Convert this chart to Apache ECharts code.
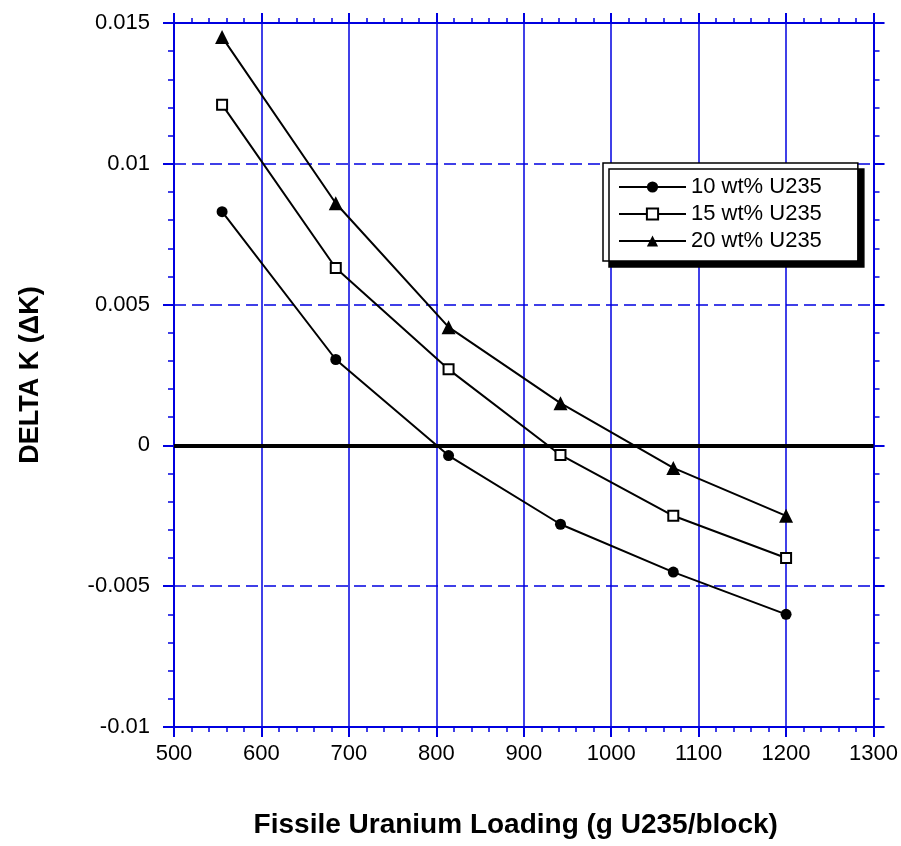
<!DOCTYPE html>
<html>
<head>
<meta charset="utf-8">
<script src="https://cdn.jsdelivr.net/npm/echarts@6/dist/echarts.min.js"></script>
<style>html,body{margin:0;padding:0;background:#fff}#c{width:901px;height:846px}</style>
</head>
<body>
<div id="c"></div>
<script>
var loading = [555, 685, 814, 942, 1071, 1200];
var dk10 = [0.0083, 0.00305, -0.00036, -0.0028, -0.0045, -0.0060];
var dk15 = [0.0121, 0.0063, 0.0027, -0.00034, -0.0025, -0.0040];
var dk20 = [0.0145, 0.0086, 0.0042, 0.0015, -0.0008, -0.0025];
var seriesNames = ['10 wt% U235', '15 wt% U235', '20 wt% U235'];
var xTitle = 'Fissile Uranium Loading (g U235/block)';
var yTitle = 'DELTA K (\u0394K)';

function pairs(ys){ return loading.map(function(x,i){ return [x, ys[i]]; }); }

var BLUE = '#0000e0';
var FONT = 'Liberation Sans, Arial, Helvetica, sans-serif';
var chart = echarts.init(document.getElementById('c'), null, {renderer:'canvas'});

function xAx(pos, labels){
  return {
    type:'value', position:pos, min:500, max:1300, interval:100,
    axisLine:{show:true, onZero:false, lineStyle:{color:BLUE, width:2}},
    axisTick:{show:true, inside:false, length:10, lineStyle:{color:BLUE, width:2}},
    minorTick:{show:true, splitNumber:5, length:5, lineStyle:{color:BLUE, width:1.5}},
    splitLine:{show:labels, lineStyle:{color:BLUE, width:1.5, type:'solid'}},
    axisLabel:{show:labels, color:'#000', fontSize:22, fontFamily:FONT, margin:16,
      formatter:function(v){ return String(v); }},
    name: labels ? xTitle : '', nameLocation:'middle', nameGap:84,
    nameTextStyle:{color:'#000', fontSize:28, fontWeight:'bold', fontFamily:FONT, padding:[0,16,0,0]}
  };
}
function yAx(pos, labels){
  return {
    type:'value', position:pos, min:-0.01, max:0.015, interval:0.005,
    axisLine:{show:true, onZero:false, lineStyle:{color:BLUE, width:2}},
    axisTick:{show:true, inside:false, length:11, lineStyle:{color:BLUE, width:2}},
    minorTick:{show:true, splitNumber:5, length:6, lineStyle:{color:BLUE, width:1.5}},
    splitLine:{show:labels, lineStyle:{color:BLUE, width:1.5, type:[12,6]}},
    axisLabel:{show:labels, color:'#000', fontSize:22, fontFamily:FONT, margin:24},
    name: labels ? yTitle : '', nameLocation:'middle', nameGap:130, nameRotate:90,
    nameTextStyle:{color:'#000', fontSize:27, fontWeight:'bold', fontFamily:FONT}
  };
}

var symbols = ['circle', 'rect', 'triangle'];
var sizes = [11, 10, 14];
var fills = ['#000', '#fff', '#000'];
var datas = [dk10, dk15, dk20];

var series = datas.map(function(d, i){
  return {
    name: seriesNames[i], type:'line', data: pairs(d),
    symbol: symbols[i], symbolSize: sizes[i], showAllSymbol:true,
    lineStyle:{color:'#000', width:2},
    itemStyle:{color: fills[i], borderColor:'#000', borderWidth: i===1 ? 2 : 0},
    z: 5, animation:false
  };
});
series.push({
  name:'zero', type:'line', data:[], animation:false,
  markLine:{silent:true, symbol:['none','none'], label:{show:false},
    lineStyle:{color:'#000', width:4, type:'solid'},
    data:[[{coord:[500, 0]}, {coord:[1300, 0]}]]},
  z: 4
});

chart.setOption({
  animation:false,
  backgroundColor:'#fff',
  grid:{left:174, right:23, top:23, bottom:119, containLabel:false},
  xAxis:[xAx('bottom', true), xAx('top', false)],
  yAxis:[yAx('left', true), yAx('right', false)],
  legend:{
    data: seriesNames.map(function(n, i){
      return {name:n, itemStyle:{color:fills[i], borderColor:'#000', borderWidth: i===1 ? 2 : 0}};
    }),
    orient:'vertical', left:603, top:163,
    padding:[13, 36, 9, 15], itemGap:5, itemWidth:67, itemHeight:14,
    backgroundColor:'#fff', borderColor:'#000', borderWidth:1.5, borderRadius:0,
    shadowColor:'#000', shadowBlur:0, shadowOffsetX:6, shadowOffsetY:6,
    textStyle:{color:'#000', fontSize:22, fontFamily:FONT, lineHeight:22},
    selectedMode:false
  },
  series: series
});
</script>
</body>
</html>
